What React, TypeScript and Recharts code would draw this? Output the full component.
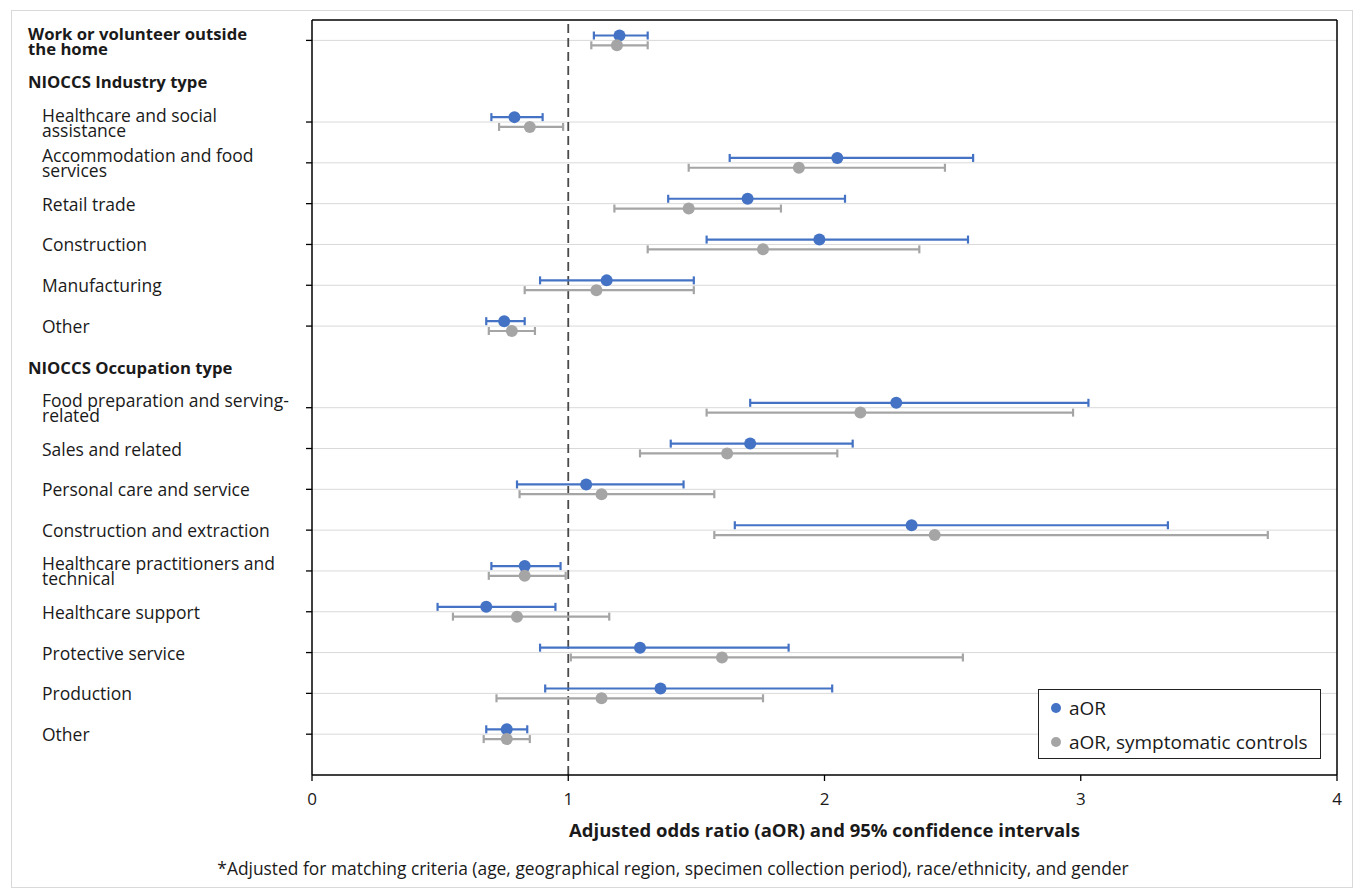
import { ComposedChart, Scatter, ErrorBar, XAxis, YAxis, ReferenceLine } from 'recharts';

const rowLabels = [
  'Work or volunteer outside\nthe home',
  'NIOCCS Industry type',
  'Healthcare and social\nassistance',
  'Accommodation and food\nservices',
  'Retail trade',
  'Construction',
  'Manufacturing',
  'Other',
  'NIOCCS Occupation type',
  'Food preparation and serving-\nrelated',
  'Sales and related',
  'Personal care and service',
  'Construction and extraction',
  'Healthcare practitioners and\ntechnical',
  'Healthcare support',
  'Protective service',
  'Production',
  'Other',
];
const boldRows = [0, 1, 8];
const headerRows = [1, 8];

const aor = [1.2, null, 0.79, 2.05, 1.7, 1.98, 1.15, 0.75, null, 2.28, 1.71, 1.07, 2.34, 0.83, 0.68, 1.28, 1.36, 0.76];
const aorLow = [1.1, null, 0.7, 1.63, 1.39, 1.54, 0.89, 0.68, null, 1.71, 1.4, 0.8, 1.65, 0.7, 0.49, 0.89, 0.91, 0.68];
const aorHigh = [1.31, null, 0.9, 2.58, 2.08, 2.56, 1.49, 0.83, null, 3.03, 2.11, 1.45, 3.34, 0.97, 0.95, 1.86, 2.03, 0.84];

const sym = [1.19, null, 0.85, 1.9, 1.47, 1.76, 1.11, 0.78, null, 2.14, 1.62, 1.13, 2.43, 0.83, 0.8, 1.6, 1.13, 0.76];
const symLow = [1.09, null, 0.73, 1.47, 1.18, 1.31, 0.83, 0.69, null, 1.54, 1.28, 0.81, 1.57, 0.69, 0.55, 1.01, 0.72, 0.67];
const symHigh = [1.31, null, 0.98, 2.47, 1.83, 2.37, 1.49, 0.87, null, 2.97, 2.05, 1.57, 3.73, 0.99, 1.16, 2.54, 1.76, 0.85];

const xTicks = [0, 1, 2, 3, 4];
const seriesNames = ['aOR', 'aOR, symptomatic controls'];

const BLUE = '#4472C4';
const GREY = '#A5A5A5';
const FONT = '"Open Sans", sans-serif';

// blue sits a bit above the row line, grey a bit below
function buildSeries(vals: (number | null)[], lo: (number | null)[], hi: (number | null)[], shift: number) {
  const out: { x: number; y: number; err: number[] }[] = [];
  vals.forEach((v, i) => {
    if (v == null) return;
    out.push({ x: v, y: i + shift, err: [v - (lo[i] as number), (hi[i] as number) - v] });
  });
  return out;
}

const aorData = buildSeries(aor, aorLow, aorHigh, -0.12);
const symData = buildSeries(sym, symLow, symHigh, 0.12);

const rowIdx = rowLabels.map((_, i) => i);
const dataRows = rowIdx.filter((i) => !headerRows.includes(i));

function RowTick(props: any) {
  const { y, payload } = props;
  const i = payload.value;
  const bold = boldRows.includes(i);
  const lines = rowLabels[i].split('\n');
  const x = bold ? 16 : 30;
  const start = y - ((lines.length - 1) * 15) / 2;
  return (
    <g>
      {!headerRows.includes(i) && <line x1={294} x2={300} y1={y} y2={y} stroke="#000" strokeWidth={1.3} />}
      <text
        x={x}
        y={start}
        fontSize={bold ? 16.7 : 17.5}
        fontWeight={bold ? 700 : 400}
        fill="#1a1a1a"
        fontFamily={FONT}
        dominantBaseline="central"
      >
        {lines.map((l, k) => (
          <tspan key={k} x={x} y={start + k * 15}>
            {l}
          </tspan>
        ))}
      </text>
    </g>
  );
}

function Dot(color: string) {
  return (p: any) => <circle cx={p.cx} cy={p.cy} r={6} fill={color} />;
}

export default function App() {
  const colors = [BLUE, GREY];
  return (
    <div
      style={{
        position: 'absolute',
        left: 11,
        top: 10,
        width: 1342,
        height: 878,
        border: '1px solid #d9d9d9',
        boxSizing: 'border-box',
        background: '#fff',
        fontFamily: FONT,
      }}
    >
      <ComposedChart width={1340} height={876} margin={{ top: 9, right: 15, bottom: 72, left: 0 }}>
        <XAxis
          type="number"
          dataKey="x"
          domain={[0, 4]}
          ticks={xTicks}
          allowDataOverflow
          height={40}
          axisLine={{ stroke: '#000', strokeWidth: 1.5 }}
          tickLine={{ stroke: '#000', strokeWidth: 1.3 }}
          tickSize={6}
          tickMargin={12}
          tick={{ fontSize: 17, fill: '#1a1a1a', fontFamily: FONT }}
        />
        <YAxis
          type="number"
          dataKey="y"
          domain={[-0.5, 18]}
          reversed
          allowDataOverflow
          ticks={rowIdx}
          interval={0}
          width={300}
          axisLine={{ stroke: '#000', strokeWidth: 1.5 }}
          tickLine={false}
          tick={<RowTick />}
        />
        {dataRows.map((i) => (
          <ReferenceLine key={i} y={i} stroke="#d9d9d9" strokeWidth={1} />
        ))}
        <ReferenceLine y={-0.5} stroke="#000" strokeWidth={1.5} />
        <ReferenceLine x={4} stroke="#000" strokeWidth={1.5} />
        <ReferenceLine x={1} stroke="#4a4a4a" strokeWidth={1.8} strokeDasharray="9 5" />
        <Scatter name={seriesNames[0]} data={aorData} fill={BLUE} shape={Dot(BLUE)} isAnimationActive={false}>
          <ErrorBar dataKey="err" direction="x" stroke={BLUE} strokeWidth={2.2} width={4} />
        </Scatter>
        <Scatter name={seriesNames[1]} data={symData} fill={GREY} shape={Dot(GREY)} isAnimationActive={false}>
          <ErrorBar dataKey="err" direction="x" stroke={GREY} strokeWidth={2.2} width={4} />
        </Scatter>
      </ComposedChart>

      <div
        style={{
          position: 'absolute',
          left: 1026,
          top: 678,
          width: 283,
          height: 70,
          border: '1px solid #222',
          background: '#fff',
          boxSizing: 'border-box',
          fontSize: 19,
          color: '#1a1a1a',
          paddingTop: 1,
        }}
      >
        {seriesNames.map((n, k) => (
          <div key={n} style={{ display: 'flex', alignItems: 'center', height: 34 }}>
            <span
              style={{
                display: 'inline-block',
                width: 10,
                height: 10,
                borderRadius: 5,
                background: colors[k],
                marginLeft: 12,
                marginRight: 8,
              }}
            />
            <span>{n}</span>
          </div>
        ))}
      </div>

      <div
        style={{
          position: 'absolute',
          left: 300,
          width: 1025,
          top: 807,
          textAlign: 'center',
          fontWeight: 700,
          fontSize: 18.5,
          color: '#1a1a1a',
          lineHeight: '24px',
        }}
      >
        Adjusted odds ratio (aOR) and 95% confidence intervals
      </div>
      <div
        style={{
          position: 'absolute',
          left: 0,
          width: 1322,
          top: 845,
          textAlign: 'center',
          fontSize: 17.4,
          color: '#1a1a1a',
          lineHeight: '24px',
        }}
      >
        *Adjusted for matching criteria (age, geographical region, specimen collection period), race/ethnicity, and gender
      </div>
    </div>
  );
}
